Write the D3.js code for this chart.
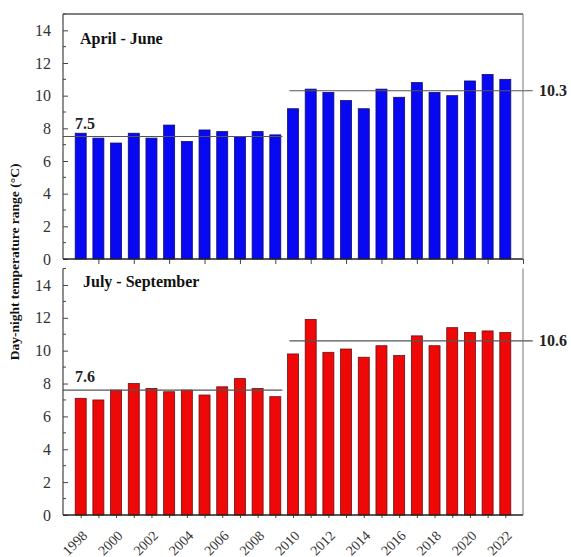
<!DOCTYPE html>
<html>
<head>
<meta charset="utf-8">
<script src="https://cdn.jsdelivr.net/npm/d3@7"></script>
<style>
  html, body { margin: 0; padding: 0; background: #fff; }
  svg { display: block; }
  text { font-family: "Liberation Serif", "Times New Roman", serif; }
</style>
</head>
<body>
<svg id="chart" width="571" height="557"></svg>
<script>
// Years of record
const years = d3.range(1998, 2023);

// Day-night temperature range (°C), April - June
const aprJun = [7.7, 7.4, 7.1, 7.7, 7.4, 8.2, 7.2, 7.9, 7.8, 7.5, 7.8, 7.6,
                9.2, 10.4, 10.2, 9.7, 9.2, 10.4, 9.9, 10.8, 10.2, 10.0, 10.9, 11.3, 11.0];

// Day-night temperature range (°C), July - September
const julSep = [7.1, 7.0, 7.6, 8.0, 7.7, 7.5, 7.6, 7.3, 7.8, 8.3, 7.7, 7.2,
                9.8, 11.9, 9.9, 10.1, 9.6, 10.3, 9.7, 10.9, 10.3, 11.4, 11.1, 11.2, 11.1];

// Period means: 1998-2009 and 2010-2022
const meansAprJun = [7.5, 10.3];
const meansJulSep = [7.6, 10.6];

const yTicks = [0, 2, 4, 6, 8, 10, 12, 14];
const xTickLabels = d3.range(1998, 2023, 2);

const svg = d3.select("#chart");
const axisColor = "#444";

const x = d3.scaleLinear().domain([1997, 2023]).range([63, 523]);
const barW = 11;

const panels = [
  { title: "April - June", values: aprJun, means: meansAprJun,
    fill: "#0808f2", stroke: "#10106a", top: 14, bottom: 259, frameTop: true,
    titleY: 44, xTicks: d3.range(1999, 2024, 2) },
  { title: "July - September", values: julSep, means: meansJulSep,
    fill: "#ee0808", stroke: "#6a1010", top: 268.5, bottom: 515, frameTop: false,
    titleY: 287, xTicks: years }
];

panels.forEach((p, pi) => {
  const y = d3.scaleLinear().domain([0, 15]).range([p.bottom, p.top]);
  const g = svg.append("g");

  // bars
  g.selectAll("rect.bar")
    .data(years.map((yr, i) => ({ yr, v: p.values[i] })))
    .join("rect")
    .attr("class", "bar")
    .attr("x", d => x(d.yr) - barW / 2)
    .attr("y", d => y(d.v))
    .attr("width", barW)
    .attr("height", d => y(0) - y(d.v))
    .attr("fill", p.fill)
    .attr("stroke", p.stroke)
    .attr("stroke-width", 0.8);

  // period mean lines
  const spans = [[1997, 2009.4], [2009.8, 2023.55]];
  p.means.forEach((m, i) => {
    g.append("line")
      .attr("x1", x(spans[i][0])).attr("x2", x(spans[i][1]))
      .attr("y1", y(m)).attr("y2", y(m))
      .attr("stroke", "#555").attr("stroke-width", 1.2);
  });
  g.append("text")
    .attr("x", 75).attr("y", y(p.means[0]) - 8)
    .attr("font-size", 16).attr("font-weight", "bold").attr("fill", "#222")
    .text(p.means[0].toFixed(1));
  g.append("text")
    .attr("x", 539).attr("y", y(p.means[1]) + 5.5)
    .attr("font-size", 16).attr("font-weight", "bold").attr("fill", "#222")
    .text(p.means[1].toFixed(1));

  // y axis: major ticks labelled, minor ticks every 1 °C, pointing inward
  const yAxis = d3.axisLeft(y).tickValues(yTicks).tickSize(-5).tickPadding(12)
    .tickFormat(d3.format("d"));
  const ya = g.append("g").attr("transform", `translate(${x(1997)},0)`).call(yAxis);
  ya.select(".domain").remove();
  ya.selectAll(".tick line").attr("stroke", axisColor);
  ya.selectAll(".tick text").attr("font-size", 16).attr("fill", "#333")
    .attr("font-family", "Liberation Serif, serif");
  g.selectAll("line.minor")
    .data(d3.range(1, 16, 2))
    .join("line")
    .attr("class", "minor")
    .attr("x1", x(1997)).attr("x2", x(1997) + 3)
    .attr("y1", d => y(d)).attr("y2", d => y(d))
    .attr("stroke", axisColor);

  // x axis ticks (outward)
  const xAxis = d3.axisBottom(x).tickValues(p.xTicks).tickSize(pi === 0 ? 5 : 3).tickFormat("");
  const xa = g.append("g").attr("transform", `translate(0,${p.bottom})`).call(xAxis);
  xa.select(".domain").remove();
  xa.selectAll(".tick line").attr("stroke", axisColor);

  // frame
  g.append("line").attr("x1", x(1997)).attr("x2", x(1997))
    .attr("y1", p.top).attr("y2", p.bottom).attr("stroke", axisColor).attr("stroke-width", 1.2);
  g.append("line").attr("x1", x(1997)).attr("x2", x(2023))
    .attr("y1", p.bottom).attr("y2", p.bottom).attr("stroke", "#222").attr("stroke-width", 1.3);
  g.append("line").attr("x1", x(2023)).attr("x2", x(2023))
    .attr("y1", p.top).attr("y2", p.bottom).attr("stroke", "#777").attr("stroke-width", 1);
  if (p.frameTop) {
    g.append("line").attr("x1", x(1997)).attr("x2", x(2023))
      .attr("y1", p.top).attr("y2", p.top).attr("stroke", "#555").attr("stroke-width", 1.5);
  }

  // panel title
  g.append("text")
    .attr("x", pi === 0 ? 80 : 83).attr("y", p.titleY)
    .attr("font-size", 16).attr("font-weight", "bold").attr("fill", "#111")
    .text(p.title);
});

// rotated year labels under the lower panel
svg.append("g").selectAll("text")
  .data(xTickLabels)
  .join("text")
  .attr("transform", d => `translate(${x(d) + 4},${533}) rotate(-45)`)
  .attr("text-anchor", "end")
  .attr("dy", "0.35em")
  .attr("font-size", 14)
  .attr("fill", "#333")
  .text(d => d);

// y axis title
svg.append("text")
  .attr("transform", "translate(19,262) rotate(-90)")
  .attr("text-anchor", "middle")
  .attr("font-size", 13.5)
  .attr("font-weight", "bold")
  .attr("fill", "#111")
  .text("Day-night temperature range (°C)");
</script>
</body>
</html>
